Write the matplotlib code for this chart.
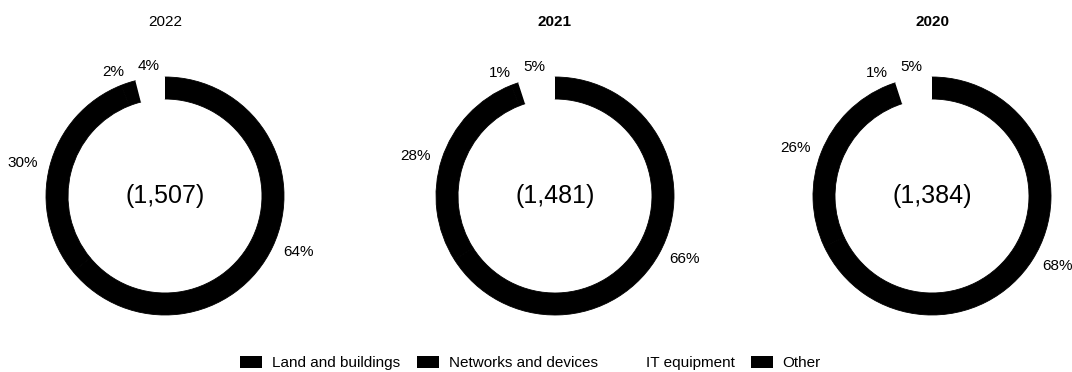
import matplotlib
matplotlib.use("Agg")
from matplotlib import pyplot as plt
from matplotlib.patches import Patch

plt.rcParams['font.family'] = ['Liberation Sans', 'DejaVu Sans']

years = ["2022", "2021", "2020"]
totals = ["(1,507)", "(1,481)", "(1,384)"]
categories = ["Land and buildings", "Networks and devices", "IT equipment", "Other"]
shares = [
    [64, 30, 2, 4],
    [66, 28, 1, 5],
    [68, 26, 1, 5],
]
ring_colors = ["black", "black", "black", "white"]
legend_colors = ["black", "black", "white", "black"]

W, H = 1072, 372
fig = plt.figure(figsize=(W / 100, H / 100), dpi=100)

# pixel layout of each ring: centre x, centre y (from top), outer radius
centres_x = [165, 555, 932]
centre_y = 196
radius_px = 119
box = 340
lim = box / (2 * radius_px)

for i, year in enumerate(years):
    cx = centres_x[i]
    ax = fig.add_axes([(cx - box / 2) / W, (H - centre_y - box / 2) / H, box / W, box / H])
    wedges, texts = ax.pie(shares[i], colors=ring_colors, startangle=90, counterclock=False,
                           labels=[f"{v}%" for v in shares[i]], labeldistance=1.1,
                           wedgeprops=dict(width=0.185, linewidth=0),
                           textprops=dict(fontsize=11, color="black"))
    # close the hairline seams between neighbouring black wedges
    for w, c in zip(wedges, ring_colors):
        if c == "black":
            w.set_edgecolor("black")
            w.set_linewidth(0.6)
    # labels sitting right above the ring are centred on their anchor
    for t in texts:
        if abs(t.get_position()[0]) < 0.2:
            t.set_horizontalalignment('center')
    ax.set_xlim(-lim, lim)
    ax.set_ylim(-lim, lim)
    ax.set_aspect('equal')
    ax.axis('off')
    ax.text(0, 0, totals[i], ha='center', va='center', fontsize=18)
    fig.text(cx / W, 1 - 22 / H, year, ha='center', va='center', fontsize=11,
             fontweight='normal' if i == 0 else 'bold')

handles = [Patch(facecolor=c, edgecolor='none') for c in legend_colors]
fig.legend(handles, categories, loc='center', bbox_to_anchor=(0.495, 0.024),
           ncol=4, frameon=False, fontsize=11, handlelength=1.45, handleheight=0.85,
           handletextpad=0.65, columnspacing=1.05, borderpad=0.2)

fig.savefig("out.png", dpi=100)
